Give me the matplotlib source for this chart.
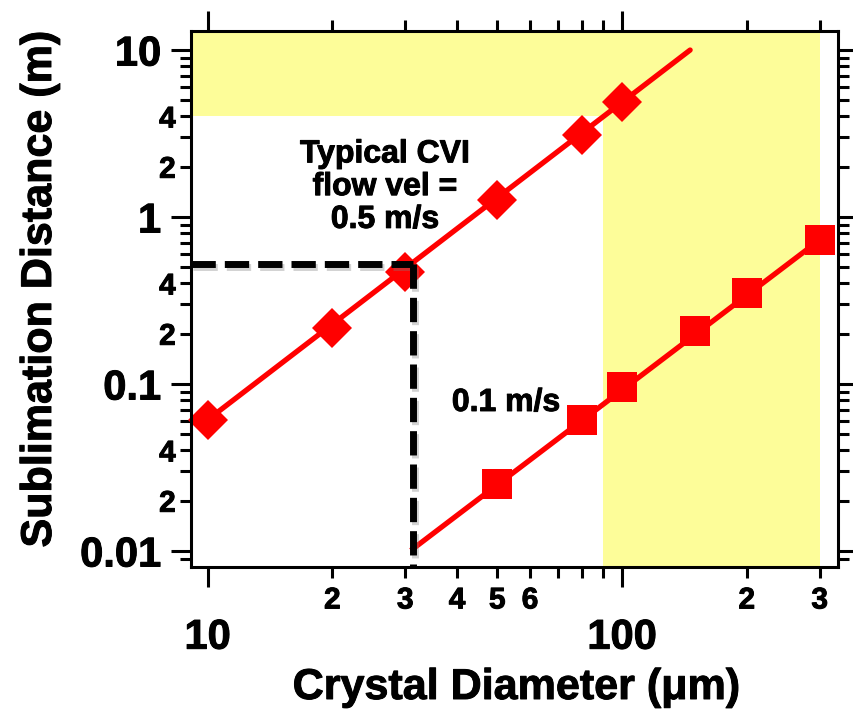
import matplotlib
matplotlib.use("Agg")
import matplotlib.pyplot as plt
import matplotlib.ticker as mticker
import matplotlib.patheffects as pe
from matplotlib.patches import Rectangle

plt.rcParams['font.family'] = ['Liberation Sans', 'DejaVu Sans']
plt.rcParams['font.weight'] = 'bold'

# ---- data ----
diam_05 = [10, 20, 30, 50, 80, 100]            # crystal diameter (um), 0.5 m/s
dist_05 = [0.061, 0.216, 0.47, 1.26, 3.1, 4.9]  # sublimation distance (m)
fit05_x = [10, 146]
fit05_y = [0.061, 10]

diam_01 = [50, 80, 100, 150, 200, 300]           # 0.1 m/s
dist_01 = [0.0252, 0.061, 0.096, 0.207, 0.351, 0.73]
fit01_x = [31.3, 300]
fit01_y = [0.0103, 0.73]

cvi_diam = 31.3   # diameter where typical CVI line crosses
cvi_dist = 0.52

xlim = (9.12, 332)
ylim = (0.00802, 13.0)

# shaded regions (data units)
band_top_y = 4
band_right_x = 90
band_end_x = 300

x_minor_labels = {20: '2', 30: '3', 40: '4', 50: '5', 60: '6', 200: '2', 300: '3'}
y_minor_labels = {0.02: '2', 0.04: '4', 0.2: '2', 0.4: '4', 2: '2', 4: '4'}

heavy = [pe.withStroke(linewidth=0.7, foreground='black')]

fig = plt.figure(figsize=(8.54, 7.11), dpi=100)
ax = fig.add_axes([191 / 854, 1 - 567 / 711, (838 - 191) / 854, (567 - 31) / 711])
ax.set_xscale('log')
ax.set_yscale('log')
ax.set_xlim(*xlim)
ax.set_ylim(*ylim)

yellow = '#FDFD99'
ax.add_patch(Rectangle((xlim[0], band_top_y), band_end_x - xlim[0], ylim[1] - band_top_y,
                       facecolor=yellow, edgecolor='none', zorder=0))
ax.add_patch(Rectangle((band_right_x, ylim[0]), band_end_x - band_right_x, ylim[1] - ylim[0],
                       facecolor=yellow, edgecolor='none', zorder=0))

red = '#FF0000'
ax.plot(fit05_x, fit05_y, color=red, lw=3.8, solid_capstyle='round', zorder=3)
ax.plot(diam_05, dist_05, linestyle='none', marker='D', ms=20.5, mew=0,
        color=red, zorder=4, clip_on=False)
ax.plot(fit01_x, fit01_y, color=red, lw=3.8, zorder=3)
ax.plot(diam_01, dist_01, linestyle='none', marker='s', ms=21, mew=0,
        color=red, zorder=4, clip_on=False)

shadow = [pe.SimpleLineShadow(offset=(1.5, -1.5), shadow_color='gray', alpha=0.35),
          pe.Normal()]
ax.plot([xlim[0], cvi_diam], [cvi_dist, cvi_dist], color='black', lw=5,
        linestyle=(0, (3.5, 1.3)), zorder=5, path_effects=shadow)
ax.plot([cvi_diam, cvi_diam], [cvi_dist, ylim[0]], color='black', lw=5,
        linestyle=(0, (3.5, 1.3)), zorder=5, path_effects=shadow)

ax.text(26.8, 1.51, 'Typical CVI\nflow vel =\n0.5 m/s', ha='center', va='center',
        fontsize=23, fontweight='bold', linespacing=1.12, zorder=6, path_effects=heavy)
ax.text(52.5, 0.077, '0.1 m/s', ha='center', va='center', fontsize=23,
        fontweight='bold', zorder=6, path_effects=heavy)

# ticks
ax.xaxis.set_major_locator(mticker.LogLocator(base=10))
ax.yaxis.set_major_locator(mticker.LogLocator(base=10))
ax.xaxis.set_minor_locator(mticker.LogLocator(base=10, subs=range(2, 10)))
ax.yaxis.set_minor_locator(mticker.LogLocator(base=10, subs=range(2, 10)))


def major_fmt(v, pos):
    if v >= 1:
        return '%d' % round(v)
    return ('%.10f' % v).rstrip('0')


def make_minor(d):
    def f(v, pos):
        for k, s in d.items():
            if abs(v - k) / k < 1e-6:
                return s
        return ''
    return f


ax.xaxis.set_major_formatter(mticker.FuncFormatter(major_fmt))
ax.yaxis.set_major_formatter(mticker.FuncFormatter(major_fmt))
ax.xaxis.set_minor_formatter(mticker.FuncFormatter(make_minor(x_minor_labels)))
ax.yaxis.set_minor_formatter(mticker.FuncFormatter(make_minor(y_minor_labels)))

ax.tick_params(which='both', direction='out', top=True, right=True, width=2.2, color='black')
ax.tick_params(which='major', length=14.5)
ax.tick_params(which='minor', length=8)
ax.tick_params(axis='x', which='major', labelsize=30, pad=22)
ax.tick_params(axis='x', which='minor', labelsize=21.5, pad=6)
ax.tick_params(axis='y', which='major', labelsize=30, pad=7)
ax.tick_params(axis='y', which='minor', labelsize=21.5, pad=3)
for lab in ax.get_xticklabels(which='both') + ax.get_yticklabels(which='both'):
    lab.set_fontweight('bold')
    lab.set_path_effects(heavy)

for s in ax.spines.values():
    s.set_linewidth(2.2)
    s.set_zorder(7)

ax.set_xlabel('Crystal Diameter (μm)', fontsize=31, fontweight='bold')
ax.xaxis.set_label_coords(0.502, (567 - 688) / 536)
ax.xaxis.label.set_verticalalignment('center')
ax.xaxis.label.set_path_effects(heavy)
ax.set_ylabel('Sublimation Distance (m)', fontsize=31, fontweight='bold')
ax.yaxis.set_label_coords((40 - 191) / 647, (567 - 290) / 536)
ax.yaxis.label.set_verticalalignment('center')
ax.yaxis.label.set_path_effects(heavy)

fig.savefig('out.png', dpi=100)
